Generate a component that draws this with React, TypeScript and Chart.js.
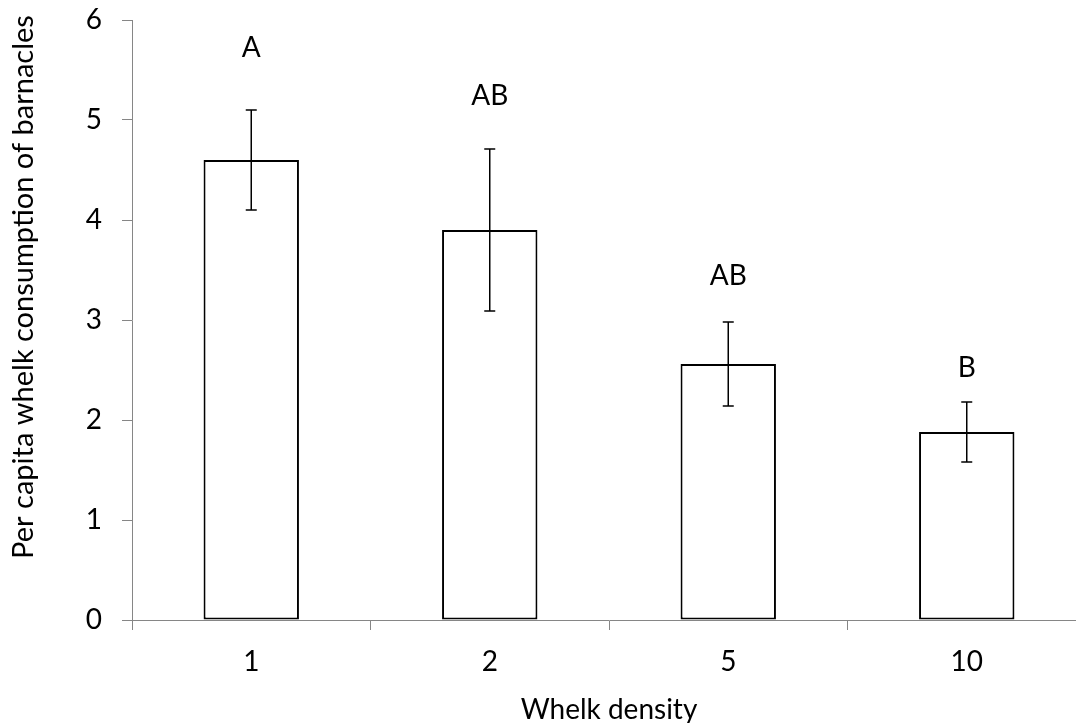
import { useEffect, useRef } from "react";
import { Chart, registerables } from "chart.js";

Chart.register(...registerables);

// values
const densities = ["1", "2", "5", "10"];
const consumption = [4.6, 3.9, 2.56, 1.88];
const errors = [0.5, 0.81, 0.42, 0.3];
const groupLetters = ["A", "AB", "AB", "B"];
const letterHeights = [5.72, 5.24, 3.44, 2.52];
const yTitle = "Per capita whelk consumption of barnacles";
const xTitle = "Whelk density";

const axisGray = "#868686";
const fontFamily = "Lato";

// error bars, significance letters and the y title (sits above centre in the original)
const annotate = {
  id: "annotate",
  afterDatasetsDraw(chart: any) {
    const { ctx, chartArea } = chart;
    const x = chart.scales.x;
    const y = chart.scales.y;
    ctx.save();
    ctx.strokeStyle = "#000";
    ctx.lineWidth = 1.5;
    consumption.forEach((v, i) => {
      const cx = x.getPixelForValue(i);
      const top = y.getPixelForValue(v + errors[i]);
      const bot = y.getPixelForValue(v - errors[i]);
      ctx.beginPath();
      ctx.moveTo(cx, top);
      ctx.lineTo(cx, bot);
      ctx.moveTo(cx - 5.5, top);
      ctx.lineTo(cx + 5.5, top);
      ctx.moveTo(cx - 5.5, bot);
      ctx.lineTo(cx + 5.5, bot);
      ctx.stroke();
    });
    ctx.fillStyle = "#000";
    ctx.font = `28px ${fontFamily}`;
    ctx.textAlign = "center";
    ctx.textBaseline = "middle";
    groupLetters.forEach((t, i) => {
      ctx.fillText(t, x.getPixelForValue(i), y.getPixelForValue(letterHeights[i]));
    });

    ctx.font = `29px ${fontFamily}`;
    ctx.textBaseline = "alphabetic";
    ctx.translate(33, (chartArea.top + chartArea.bottom) / 2 - 33);
    ctx.rotate(-Math.PI / 2);
    ctx.fillText(yTitle, 0, 0);
    ctx.restore();
  },
};

export default function App() {
  const canvasRef = useRef<HTMLCanvasElement>(null);

  useEffect(() => {
    if (!canvasRef.current) return;
    const chart = new Chart(canvasRef.current, {
      type: "bar",
      data: {
        labels: densities,
        datasets: [
          {
            data: consumption,
            backgroundColor: "#fff",
            borderColor: "#000",
            borderWidth: 2,
            borderSkipped: false,
            barPercentage: 0.4,
            categoryPercentage: 1,
          },
        ],
      },
      options: {
        responsive: false,
        animation: false,
        devicePixelRatio: 1,
        layout: { padding: { top: 20, right: 14, left: 0, bottom: 0 } },
        plugins: {
          legend: { display: false },
          tooltip: { enabled: false },
        },
        scales: {
          x: {
            grid: {
              offset: true,
              drawOnChartArea: false,
              tickLength: 10,
              color: axisGray,
            },
            border: { color: axisGray, width: 1 },
            ticks: {
              color: "#000",
              padding: 15,
              font: { family: fontFamily, size: 28 },
            },
            title: {
              display: true,
              text: xTitle,
              color: "#000",
              font: { family: fontFamily, size: 28 },
              padding: { top: 0, bottom: -4 },
            },
            afterFit: (s: any) => {
              s.height = 103;
              s.paddingLeft = 0;
              s.paddingRight = 0;
            },
          },
          y: {
            min: 0,
            max: 6,
            grid: {
              drawOnChartArea: false,
              tickLength: 10,
              color: axisGray,
            },
            border: { color: axisGray, width: 1 },
            ticks: {
              stepSize: 1,
              color: "#000",
              padding: 20,
              font: { family: fontFamily, size: 28 },
            },
            afterFit: (s: any) => {
              s.width = 132;
              s.paddingTop = 0;
              s.paddingBottom = 0;
            },
          },
        },
      },
      plugins: [annotate],
    });
    return () => chart.destroy();
  }, []);

  return (
    <div
      style={{
        position: "absolute",
        left: 0,
        top: 0,
        width: 1076,
        height: 723,
        overflow: "hidden",
        background: "#fff",
      }}
    >
      <canvas ref={canvasRef} width={1100} height={723} style={{ display: "block" }} />
    </div>
  );
}
